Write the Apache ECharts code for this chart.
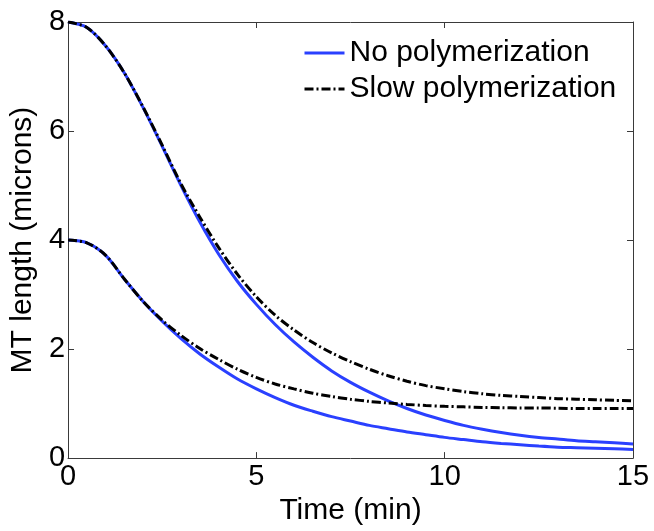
<!DOCTYPE html>
<html>
<head>
<meta charset="utf-8">
<script src="https://cdn.jsdelivr.net/npm/echarts@6/dist/echarts.min.js"></script>
<style>html,body{margin:0;padding:0;background:#fff}#c{width:654px;height:531px}</style>
</head>
<body>
<div id="c"></div>
<script>
const time = [0,0.5,1,1.5,2,2.5,3,3.5,4,4.5,5,5.5,6,6.5,7,7.5,8,8.5,9,9.5,10,10.5,11,11.5,12,12.5,13,13.5,14,14.5,15];
const noPolyLong = [8.00,7.90,7.56,7.06,6.42,5.72,5.00,4.33,3.74,3.24,2.82,2.45,2.13,1.85,1.60,1.39,1.21,1.05,0.91,0.79,0.69,0.60,0.53,0.47,0.42,0.38,0.35,0.32,0.30,0.28,0.26];
const slowPolyLong = [8.00,7.90,7.56,7.06,6.43,5.74,5.03,4.42,3.86,3.37,2.96,2.62,2.35,2.12,1.93,1.77,1.63,1.51,1.41,1.33,1.27,1.22,1.18,1.15,1.13,1.11,1.09,1.08,1.07,1.06,1.05];
const noPolyShort = [4.00,3.95,3.72,3.28,2.87,2.51,2.19,1.91,1.67,1.45,1.27,1.11,0.97,0.86,0.76,0.68,0.60,0.54,0.48,0.43,0.38,0.34,0.30,0.27,0.245,0.22,0.20,0.19,0.18,0.17,0.16];
const slowPolyShort = [4.00,3.95,3.72,3.28,2.87,2.53,2.25,2.01,1.81,1.63,1.48,1.36,1.27,1.19,1.13,1.08,1.04,1.01,0.985,0.965,0.95,0.94,0.93,0.925,0.92,0.92,0.915,0.91,0.91,0.91,0.91];
const xTicks = [0,5,10,15];
const yTicks = [0,2,4,6,8];
const seriesNames = ['No polymerization','Slow polymerization'];

const FONT = 'Liberation Sans';
const BLUE = '#2a40ff';
const AX = '#3a3a3a';
const DASHDOT = [9,3,2,3];
const pairs = ys => time.map((t,i)=>[t, ys[i]]);

const baseX = {type:'value', min:0, max:15, interval:5, splitLine:{show:false},
  axisLine:{show:true, onZero:false, lineStyle:{color:AX,width:1}},
  axisTick:{show:true, inside:true, length:6, lineStyle:{color:AX}}};
const baseY = {type:'value', min:0, max:8, interval:2, splitLine:{show:false},
  axisLine:{show:true, onZero:false, lineStyle:{color:AX,width:1}},
  axisTick:{show:true, inside:true, length:6, lineStyle:{color:AX}}};

const chart = echarts.init(document.getElementById('c'), null, {renderer:'canvas'});
chart.setOption({
  animation:false,
  backgroundColor:'#fff',
  textStyle:{fontFamily:FONT},
  grid:{left:65, right:21, top:22, bottom:68, containLabel:false},
  legend:{
    data:seriesNames, orient:'vertical', left:303, top:38, padding:0,
    itemWidth:40, itemHeight:14, itemGap:6,
    itemStyle:{opacity:0},
    lineStyle:{width:3},
    textStyle:{fontFamily:FONT, fontSize:30, color:'#000', padding:[0,0,0,0]}
  },
  xAxis:[
    Object.assign({}, baseX, {position:'bottom', name:'Time (min)', nameLocation:'middle', nameGap:34,
      nameTextStyle:{fontFamily:FONT, fontSize:30, color:'#000'},
      axisLabel:{show:true, margin:4, fontFamily:FONT, fontSize:29, color:'#000',
        formatter:v=>xTicks.includes(v)?String(v):''}}),
    Object.assign({}, baseX, {position:'top', axisLabel:{show:false}})
  ],
  yAxis:[
    Object.assign({}, baseY, {position:'left', name:'MT length (microns)', nameLocation:'middle', nameGap:28,
      nameRotate:90, nameTextStyle:{fontFamily:FONT, fontSize:30, color:'#000'},
      axisLabel:{show:true, margin:3, fontFamily:FONT, fontSize:29, color:'#000',
        formatter:v=>yTicks.includes(v)?String(v):''}}),
    Object.assign({}, baseY, {position:'right', axisLabel:{show:false}})
  ],
  series:[
    {name:seriesNames[0], type:'line', data:pairs(noPolyLong), smooth:0.3, symbol:'none', z:2,
      lineStyle:{color:BLUE, width:3}, itemStyle:{color:BLUE}},
    {name:seriesNames[1], type:'line', data:pairs(slowPolyLong), smooth:0.3, symbol:'none', z:3,
      lineStyle:{color:'#000', width:3, type:DASHDOT}, itemStyle:{color:'#000'}},
    {name:seriesNames[0], type:'line', data:pairs(noPolyShort), smooth:0.3, symbol:'none', z:2,
      lineStyle:{color:BLUE, width:3}, itemStyle:{color:BLUE}},
    {name:seriesNames[1], type:'line', data:pairs(slowPolyShort), smooth:0.3, symbol:'none', z:3,
      lineStyle:{color:'#000', width:3, type:DASHDOT}, itemStyle:{color:'#000'}}
  ]
});
</script>
</body>
</html>
